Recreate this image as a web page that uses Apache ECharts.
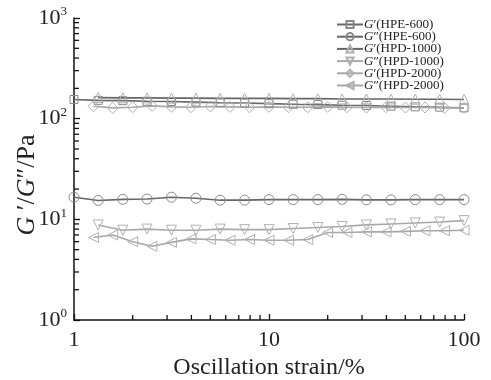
<!DOCTYPE html>
<html><head><meta charset="utf-8">
<script src="https://cdn.jsdelivr.net/npm/echarts@6/dist/echarts.min.js"></script>
<style>html,body{margin:0;padding:0;background:#fff}#c{width:491px;height:380px}</style>
</head><body><div id="c"></div>
<script>
// Data
const strainA = [1, 1.33, 1.78, 2.37, 3.16, 4.22, 5.62, 7.5, 10, 13.3, 17.8, 23.7, 31.6, 42.2, 56.2, 75, 100];
const strainB = [1.26, 1.58, 2.0, 2.51, 3.16, 3.98, 5.01, 6.31, 7.94, 10, 12.6, 15.8, 20, 25.1, 31.6, 39.8, 50.1, 63.1, 79.4, 100];
const gpHPE600  = [155, 152, 151, 149, 148, 146, 144, 143, 141, 139, 138, 136, 135, 133, 131, 130, 128];
const gppHPE600 = [16.6, 15.4, 15.8, 15.9, 16.6, 16.2, 15.5, 15.5, 15.7, 15.7, 15.7, 15.8, 15.6, 15.6, 15.7, 15.7, 15.7];
const gpHPD1000  = [null, 162, 161, 161, 160, 160, 159, 159, 159, 158, 158, 157, 157, 157, 156, 156, 155];
const gppHPD1000 = [null, 8.8, 7.8, 8.0, 7.8, 7.8, 8.0, 7.9, 7.9, 8.1, 8.3, 8.5, 8.8, 9.0, 9.2, 9.4, 9.7];
const gpHPD2000  = [133, 128, 130, 134, 131, 130, 132, 131, 130, 131, 130, 130, 131, 130, 129, 130, 129, 129, 128, 128];
const gppHPD2000 = [6.6, 7.0, 6.0, 5.4, 5.9, 6.4, 6.3, 6.2, 6.3, 6.2, 6.2, 6.3, 7.4, 7.4, 7.5, 7.5, 7.6, 7.7, 7.7, 7.8];
const seriesNames = ["G′(HPE-600)", "G″(HPE-600)", "G′(HPD-1000)", "G″(HPD-1000)", "G′(HPD-2000)", "G″(HPD-2000)"];
const xMinorTicks = [2, 3, 4, 5, 6, 7, 8, 9, 20, 30, 40, 50, 60, 70, 80, 90];
const yMinorTicks = [2, 3, 4, 5, 6, 7, 8, 9, 20, 30, 40, 50, 60, 70, 80, 90, 200, 300, 400, 500, 600, 700, 800, 900];
const xTickLabels = {1: "1", 10: "10", 100: "100"};
const yTickExp = {1: "0", 10: "1", 100: "2", 1000: "3"};
const xMin = 1, xMax = 100, yMin = 1, yMax = 1000;

const font = "'Liberation Serif','DejaVu Serif',serif";
function pairs(xs, ys) { return xs.map((x, i) => [x, ys[i]]).filter(p => p[1] != null); }

function mk(name, xs, ys, symbol, size, lineColor, markColor, rot) {
  return {
    name: name, type: 'line', data: pairs(xs, ys),
    symbol: symbol, symbolSize: size, symbolRotate: rot || 0,
    lineStyle: {color: lineColor, width: 1.6},
    itemStyle: {color: 'rgba(255,255,255,0)', borderColor: markColor, borderWidth: 1},
    showSymbol: true, animation: false, z: 3
  };
}

const chart = echarts.init(document.getElementById('c'));
const dark = '#666666', darkM = '#888888', light = '#a8a8a8', lightM = '#b0b0b0';
chart.setOption({
  animation: false,
  grid: {left: 74, right: 27, top: 18, bottom: 60, outerBoundsMode: 'none', containLabel: false},
  legend: {
    data: seriesNames, orient: 'vertical', left: 331, top: 13,
    itemWidth: 26, itemHeight: 9, itemGap: -0.8,
    formatter: function (n) { return '{i|G}{n|' + n.slice(1) + '}'; },
    textStyle: {
      fontFamily: font, fontSize: 13, color: '#222', padding: [0, 0, 0, -4],
      rich: {i: {fontFamily: font, fontSize: 13, fontStyle: 'italic', color: '#222'},
             n: {fontFamily: font, fontSize: 13, color: '#222'}}
    }
  },
  xAxis: {
    type: 'log', logBase: 10, min: xMin, max: xMax,
    axisLine: {lineStyle: {color: '#111', width: 1.5}},
    axisTick: {inside: true, length: 6, lineStyle: {color: '#111', width: 1.3}},
    splitLine: {show: false},
    axisLabel: {fontFamily: font, fontSize: 22, color: '#222', margin: 9,
      formatter: v => xTickLabels[Math.round(v)] || ''},
    name: 'Oscillation strain/%', nameLocation: 'middle', nameGap: 36, nameMoveOverlap: false,
    nameTextStyle: {fontFamily: font, fontSize: 24, color: '#222'}
  },
  yAxis: {
    type: 'log', logBase: 10, min: yMin, max: yMax,
    axisLine: {lineStyle: {color: '#111', width: 1.5}},
    axisTick: {inside: true, length: 6, lineStyle: {color: '#111', width: 1.3}},
    splitLine: {show: false},
    axisLabel: {margin: 7,
      formatter: v => '{b|10}{s|' + (yTickExp[Math.round(v)] || '') + '}',
      rich: {b: {fontFamily: font, fontSize: 22, color: '#222'},
             s: {fontFamily: font, fontSize: 13, color: '#222', padding: [0, 0, 12, 0]}}}
  },
  series: [
    mk(seriesNames[0], strainA, gpHPE600, 'rect', 8, dark, darkM),
    mk(seriesNames[1], strainA, gppHPE600, 'circle', 10, dark, darkM),
    mk(seriesNames[2], strainA, gpHPD1000, 'triangle', 10, dark, lightM),
    mk(seriesNames[3], strainA, gppHPD1000, 'triangle', 10, light, lightM, 180),
    mk(seriesNames[4], strainB, gpHPD2000, 'diamond', 11, light, lightM),
    mk(seriesNames[5], strainB, gppHPD2000, 'triangle', 10, light, lightM, 90)
  ]
});

// Minor ticks (2..9 per decade) placed through the chart's own axis scales, plus the y-axis title
const gfx = [];
xMinorTicks.forEach(v => {
  const p = chart.convertToPixel({gridIndex: 0}, [v, yMin]);
  gfx.push({type: 'line', shape: {x1: p[0], y1: p[1], x2: p[0], y2: p[1] - 5},
            style: {stroke: '#111', lineWidth: 1.3}, z: 100});
});
yMinorTicks.forEach(v => {
  const p = chart.convertToPixel({gridIndex: 0}, [xMin, v]);
  gfx.push({type: 'line', shape: {x1: p[0], y1: p[1], x2: p[0] + 5, y2: p[1]},
            style: {stroke: '#111', lineWidth: 1.3}, z: 100});
});
gfx.push({
  type: 'text', x: 27, y: 185, rotation: Math.PI / 2,
  style: {
    text: '{i|G}{n| ′/}{i|G}{n|″/Pa}', align: 'center', verticalAlign: 'middle',
    rich: {i: {fontFamily: font, fontSize: 26, fontStyle: 'italic', fill: '#222'},
           n: {fontFamily: font, fontSize: 26, fill: '#222'}}
  }
});
chart.setOption({graphic: gfx});
</script></body></html>
